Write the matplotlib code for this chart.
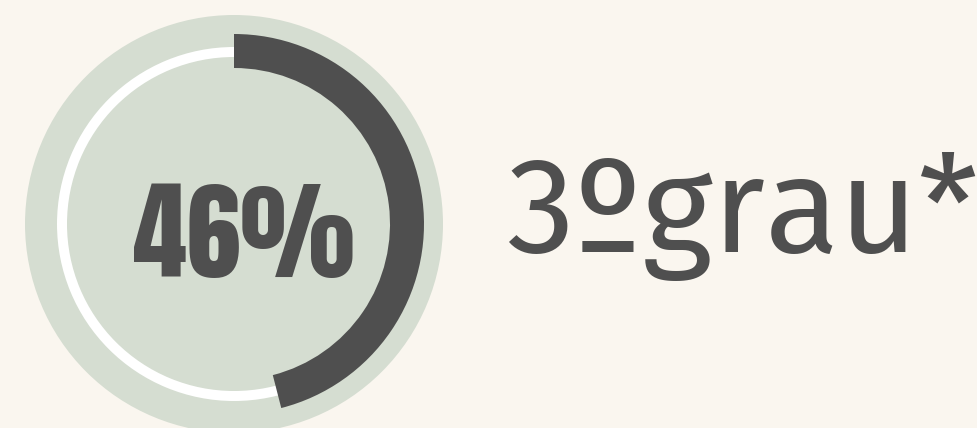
import matplotlib
matplotlib.use('Agg')
import matplotlib.pyplot as plt
from matplotlib.patches import Circle, Wedge

# dados
percent = 46
label = '3ºgrau*'

bg = '#faf6ef'
sage = '#d5ddd1'
dark = '#4f4f4f'

fig = plt.figure(figsize=(9.78, 4.28), dpi=100)
fig.patch.set_facecolor(bg)
ax = fig.add_axes([0, 0, 1, 1])
ax.set_xlim(0, 978)
ax.set_ylim(0, 428)
ax.set_aspect('equal')
ax.axis('off')

cx, cy = 234, 204
ax.add_patch(Circle((cx, cy), 209, color=sage, lw=0))
ax.add_patch(Wedge((cx, cy), 177, 0, 360, width=10, color='white', lw=0))
ax.add_patch(Wedge((cx, cy), 190, 90 - percent / 100 * 360, 90, width=34, color=dark, lw=0))

ax.text(244, 428 - 277, f'{percent}%', ha='center', va='baseline',
        family=['Anton', 'Saira ExtraCondensed', 'DejaVu Sans'],
        fontsize=78, color=dark)
ax.text(506, 428 - 252, label, ha='left', va='baseline',
        family=['Fira Sans', 'Titillium Web', 'DejaVu Sans'],
        weight='normal', fontsize=98, color=dark)

fig.savefig('out.png', dpi=100, facecolor=bg)
